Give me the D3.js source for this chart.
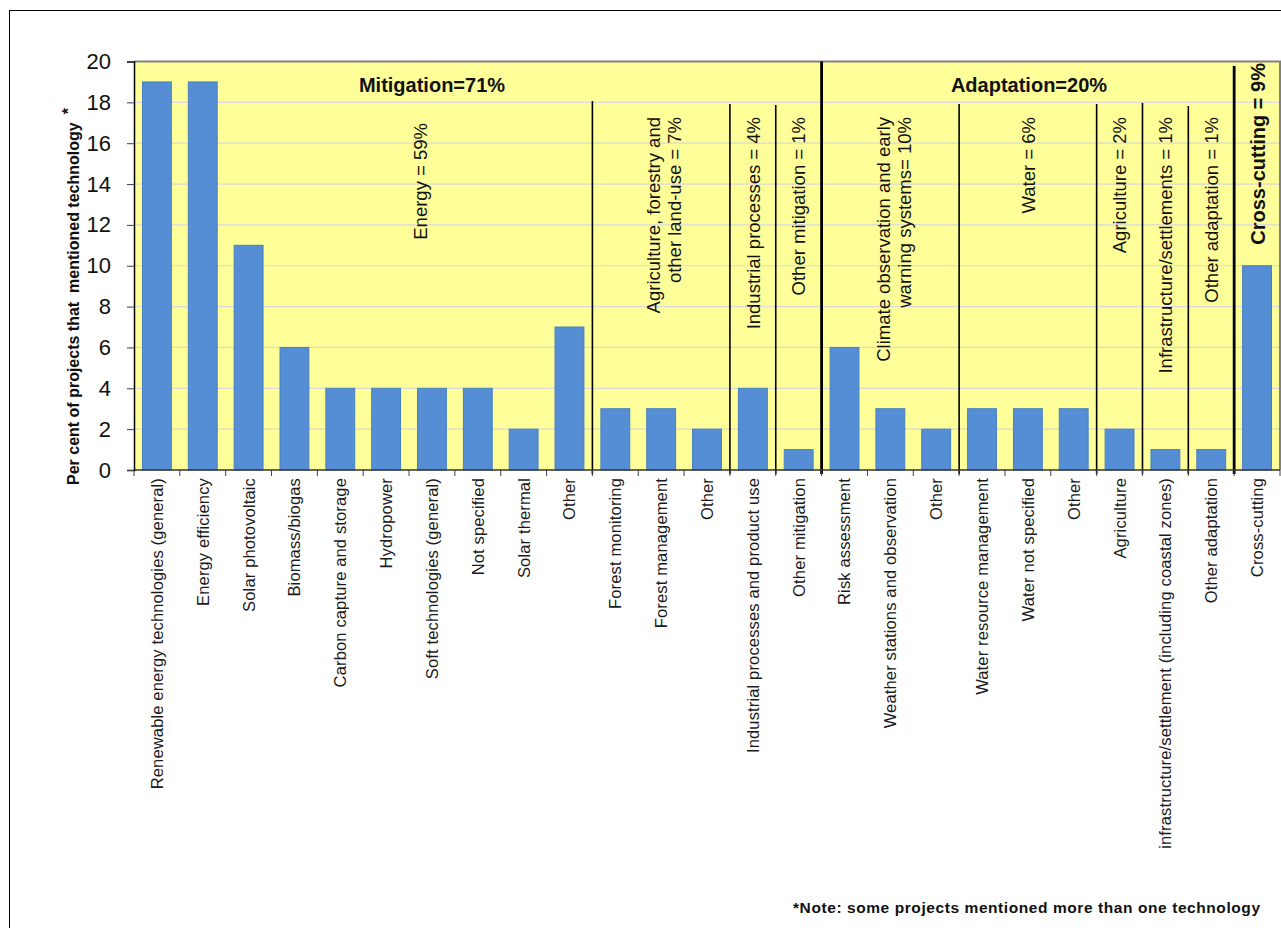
<!DOCTYPE html>
<html>
<head>
<meta charset="utf-8">
<script src="https://cdn.jsdelivr.net/npm/d3@7"></script>
<style>
  body { margin: 0; background: #fff; }
  svg { display: block; font-family: "Liberation Sans", Arial, sans-serif; }
</style>
</head>
<body>
<div id="grafico"></div>
<script>
// Dados do gráfico
const categories = [
    "Renewable energy technologies (general)", "Energy efficiency", "Solar photovoltaic",
    "Biomass/biogas", "Carbon capture and storage", "Hydropower", "Soft technologies (general)",
    "Not specified", "Solar thermal", "Other",
    "Forest monitoring", "Forest management", "Other",
    "Industrial processes and product use",
    "Other mitigation",
    "Risk assessment", "Weather stations and observation", "Other",
    "Water resource management", "Water not specified", "Other",
    "Agriculture",
    "infrastructure/settlement (including coastal zones)",
    "Other adaptation",
    "Cross-cutting"
];
const values = [19, 19, 11, 6, 4, 4, 4, 4, 2, 7, 3, 3, 2, 4, 1, 6, 3, 2, 3, 3, 3, 2, 1, 1, 10];
const yTicks = [0, 2, 4, 6, 8, 10, 12, 14, 16, 18, 20];

// Grupos e setores
const groupSizes = [10, 3, 1, 1, 3, 3, 1, 1, 1, 1];
const groupLabels = [
    ["Energy = 59%"],
    ["Agriculture, forestry and", "other land-use = 7%"],
    ["Industrial processes = 4%"],
    ["Other mitigation = 1%"],
    ["Climate observation and early", "warning systems= 10%"],
    ["Water = 6%"],
    ["Agriculture = 2%"],
    ["Infrastructure/settlements = 1%"],
    ["Other adaptation = 1%"],
    null
];
const sectorSizes = [15, 9, 1];
const sectorLabels = ["Mitigation=71%", "Adaptation=20%", "Cross-cutting = 9%"];

const yTitle = "Per cent of projects that  mentioned technology";
const note = "*Note: some projects mentioned more than one technology";

let Grafico = (() => {

    const W = 1281, H = 928;
    const plot = { left: 134, right: 1280, top: 61.5, bottom: 470 };

    const desenhar = () => {
        const svg = d3.select("#grafico").append("svg")
            .attr("width", W)
            .attr("height", H);

        // Moldura externa
        svg.append("rect")
            .attr("x", 9.5).attr("y", 10.5)
            .attr("width", 1400).attr("height", 1000)
            .attr("fill", "none").attr("stroke", "#000").attr("stroke-width", 1);

        const idx = d3.range(categories.length);

        // Escalas
        const x = d3.scaleBand().domain(idx).range([plot.left, plot.right]);
        const xBar = d3.scaleBand().domain(idx)
            .range([plot.left, plot.right])
            .paddingInner(0.37).paddingOuter(0.185);
        const y = d3.scaleLinear().domain([0, 20]).range([plot.bottom, plot.top]);

        // Fundo amarelo
        svg.append("rect")
            .attr("x", plot.left).attr("y", plot.top)
            .attr("width", plot.right - plot.left).attr("height", plot.bottom - plot.top)
            .attr("fill", "#ffff99");

        // Linhas de grade
        svg.append("g")
            .selectAll("line")
            .data(yTicks.filter(t => t > 0 && t < 20))
            .enter().append("line")
            .attr("x1", plot.left).attr("x2", plot.right)
            .attr("y1", d => y(d)).attr("y2", d => y(d))
            .attr("stroke", "#d9d9dc").attr("stroke-width", 1.2);

        // Borda superior e direita cinza
        svg.append("path")
            .attr("d", `M${plot.left},${plot.top}H${plot.right}V${plot.bottom}`)
            .attr("fill", "none").attr("stroke", "#808080").attr("stroke-width", 2);

        // Barras
        svg.append("g")
            .selectAll("rect")
            .data(values)
            .enter().append("rect")
            .attr("x", (d, i) => xBar(i))
            .attr("y", d => y(d))
            .attr("width", xBar.bandwidth())
            .attr("height", d => y(0) - y(d))
            .attr("fill", "#558ed5")
            .attr("stroke", "#4a7fc0")
            .attr("stroke-width", 1);

        // Fronteiras dos grupos
        const boundaryX = i => (i < categories.length ? x(i) : plot.right);
        const groupEnds = d3.cumsum(groupSizes);
        const sectorEnds = d3.cumsum(sectorSizes);
        const thinTop = { 10: 101, 13: 104, 14: 105, 18: 104, 21: 104, 22: 103, 23: 106 };
        const thickTop = { 15: 61.5, 24: 66 };

        svg.append("g")
            .selectAll("line")
            .data(Array.from(groupEnds).filter(e => e < categories.length && !Array.from(sectorEnds).includes(e)))
            .enter().append("line")
            .attr("x1", d => boundaryX(d)).attr("x2", d => boundaryX(d))
            .attr("y1", d => thinTop[d] || 104).attr("y2", plot.bottom + 4)
            .attr("stroke", "#000").attr("stroke-width", 1.6);

        svg.append("g")
            .selectAll("line")
            .data(Array.from(sectorEnds).filter(e => e < categories.length))
            .enter().append("line")
            .attr("x1", d => boundaryX(d)).attr("x2", d => boundaryX(d))
            .attr("y1", d => thickTop[d] || 61.5).attr("y2", plot.bottom + 4)
            .attr("stroke", "#000").attr("stroke-width", 2.8);

        // Eixo X (rótulos rotacionados)
        const gx = svg.append("g")
            .attr("transform", `translate(0, ${plot.bottom})`)
            .call(d3.axisBottom(x).tickSize(0).tickFormat(i => categories[i]));
        gx.select(".domain").remove();
        gx.selectAll("text")
            .attr("transform", "rotate(-90)")
            .attr("text-anchor", "end")
            .attr("x", -8).attr("y", 0).attr("dy", "0.36em")
            .style("font-size", "16.5px")
            .style("letter-spacing", "0.15px")
            .style("font-family", "'Liberation Sans', Arial, sans-serif")
            .style("fill", "#1a1a1a");

        // Marcas nas fronteiras das categorias
        svg.append("g")
            .selectAll("line")
            .data(d3.range(categories.length + 1))
            .enter().append("line")
            .attr("x1", d => boundaryX(d)).attr("x2", d => boundaryX(d))
            .attr("y1", plot.bottom).attr("y2", plot.bottom + 6)
            .attr("stroke", "#404040").attr("stroke-width", 1);

        svg.append("line")
            .attr("x1", plot.left).attr("x2", plot.right)
            .attr("y1", plot.bottom).attr("y2", plot.bottom)
            .attr("stroke", "#333").attr("stroke-width", 1.5);

        // Eixo Y
        const gy = svg.append("g")
            .attr("transform", `translate(${plot.left}, 0)`)
            .call(d3.axisLeft(y).tickValues(yTicks).tickSize(7).tickPadding(16));
        gy.select(".domain").attr("stroke", "#000").attr("stroke-width", 1.5);
        gy.selectAll(".tick line").attr("stroke", "#404040");
        gy.selectAll("text")
            .style("font-size", "22px")
            .style("font-family", "'Liberation Sans', Arial, sans-serif")
            .style("fill", "#111");

        // Título do eixo Y
        const ty = svg.append("text")
            .attr("transform", "translate(79, 485) rotate(-90)")
            .attr("text-anchor", "start")
            .style("font-size", "16px")
            .style("font-weight", "bold")
            .style("white-space", "pre")
            .style("fill", "#111");
        ty.append("tspan").text(yTitle);
        ty.append("tspan").attr("dx", 8).attr("dy", -5).text("*");

        // Rótulos dos setores
        svg.append("text")
            .attr("x", 432).attr("y", 92)
            .attr("text-anchor", "middle")
            .style("font-size", "20px").style("font-weight", "bold").style("fill", "#111")
            .text(sectorLabels[0]);
        svg.append("text")
            .attr("x", 1029).attr("y", 92)
            .attr("text-anchor", "middle")
            .style("font-size", "20px").style("font-weight", "bold").style("fill", "#111")
            .text(sectorLabels[1]);

        const lastX = boundaryX(sectorEnds[1]);
        const ccCenter = (lastX + plot.right) / 2;
        svg.append("text")
            .attr("transform", `translate(${ccCenter + 1}, 63) rotate(-90)`)
            .attr("text-anchor", "end")
            .attr("dy", "0.36em")
            .style("font-size", "20px").style("font-weight", "bold").style("fill", "#111")
            .text(sectorLabels[2]);

        // Rótulos dos grupos (verticais)
        let start = 0;
        groupSizes.forEach((size, g) => {
            const x0 = boundaryX(start), x1 = boundaryX(start + size);
            start += size;
            const lines = groupLabels[g];
            if (!lines) return;
            let cx = (x0 + x1) / 2;
            let topY = 117;
            if (g === 0) { cx += 57; topY = 123; }
            const lh = 21;
            lines.forEach((line, k) => {
                const off = (k - (lines.length - 1) / 2) * lh + (lines.length > 1 ? 3 : 0);
                svg.append("text")
                    .attr("transform", `translate(${cx + off}, ${topY}) rotate(-90)`)
                    .attr("text-anchor", "end")
                    .attr("dy", "0.36em")
                    .style("font-size", "18.5px")
                    .style("fill", "#111")
                    .text(line);
            });
        });

        // Nota
        svg.append("text")
            .attr("x", 793).attr("y", 913)
            .attr("textLength", 467)
            .attr("lengthAdjust", "spacing")
            .style("font-size", "15.5px").style("font-weight", "bold").style("fill", "#111")
            .text(note);
    };

    const iniciar = () => desenhar();

    return { iniciar };
})();

Grafico.iniciar();
</script>
</body>
</html>
